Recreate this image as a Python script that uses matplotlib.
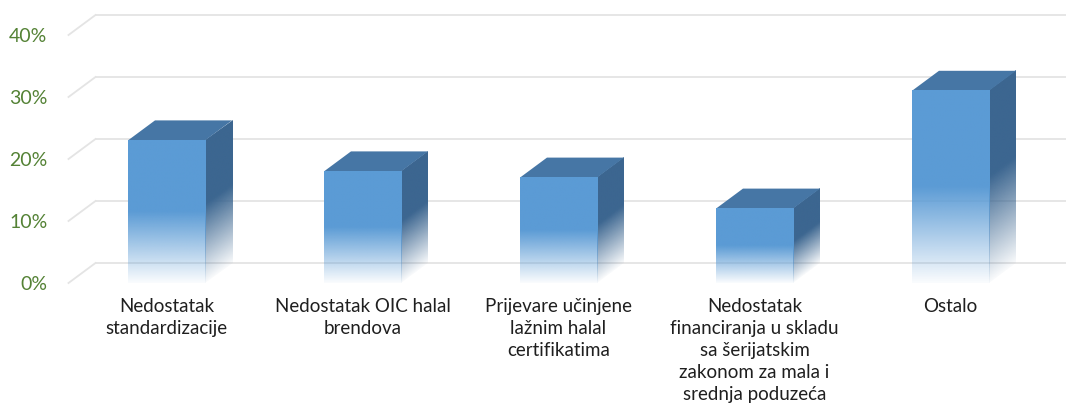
import numpy as np
import matplotlib
matplotlib.use("Agg")
import matplotlib.pyplot as plt
from matplotlib.patches import Polygon
from matplotlib.transforms import Affine2D

# ---- data ----
categories = [
    "Nedostatak\nstandardizacije",
    "Nedostatak OIC halal\nbrendova",
    "Prijevare učinjene\nlažnim halal\ncertifikatima",
    "Nedostatak\nfinanciranja u skladu\nsa šerijatskim\nzakonom za mala i\nsrednja poduzeća",
    "Ostalo",
]
values = [0.23, 0.18, 0.17, 0.12, 0.31]
yticks = [0.0, 0.1, 0.2, 0.3, 0.4]
ytick_labels = ["0%", "10%", "20%", "30%", "40%"]

# ---- style ----
FRONT = "#5B9BD5"
TOP = "#4676A5"
SIDE = "#3C6690"
GRID = "#E4E4E4"
YLAB = "#548235"
TXT = "#1F1F1F"
FONT = ["Lato", "DejaVu Sans"]

W, H = 1066, 413
fig = plt.figure(figsize=(W / 100, H / 100), dpi=100)
fig.patch.set_facecolor("white")
# front plane of plot area
left_px, right_px = 68.5, 1048.5
y0_px, y40_px = 283, 35
ax = fig.add_axes([left_px / W, (H - y0_px) / H, (right_px - left_px) / W, (y0_px - y40_px) / H])
ax.set_xlim(-0.5, len(values) - 0.5)
ax.set_ylim(0, 0.4)
ax.set_autoscale_on(False)
ax.axis("off")

# depth offset (pixels) converted to data units through the axes transform
depth_px = (27, 20)
p0 = ax.transData.transform((0, 0))
ddx, ddy = ax.transData.inverted().transform(p0 + np.array(depth_px)) - np.array([0, 0])

xmin, xmax = -0.5, len(values) - 0.5

# gridlines: diagonal on side wall + back wall horizontal
for v in yticks:
    ax.plot([xmin, xmin + ddx], [v, v + ddy], color=GRID, lw=1.3, clip_on=False, zorder=1)
    ax.plot([xmin + ddx, xmax + ddx + 0.2], [v + ddy, v + ddy], color=GRID, lw=1.3,
            clip_on=False, zorder=1)

for v, lab in zip(yticks, ytick_labels):
    ax.annotate(lab, (xmin, v), xytext=(-21, -2), textcoords="offset pixels",
                ha="right", va="center", color=YLAB, fontsize=14, family=FONT)

# gradient helper
def grad_img(color, n=256, solid_from=0.5):
    rgb = np.array(matplotlib.colors.to_rgb(color))
    t = np.linspace(0, 1, n)
    a = np.clip(t / solid_from, 0, 1)
    a = 0.03 + 0.97 * a
    img = np.zeros((n, 2, 4))
    img[:, :, :3] = rgb
    img[:, :, 3] = a[:, None]
    return img

bw = 0.393
for i, v in enumerate(values):
    xl, xr = i - bw / 2, i + bw / 2
    # side face (skewed gradient image)
    side_tr = Affine2D(np.array([[ddx, 0, xr], [ddy, v, 0], [0, 0, 1]])) + ax.transData
    ax.imshow(grad_img(SIDE, solid_from=0.55), extent=(0, 1, 0, 1), origin="lower",
              aspect="auto", interpolation="bilinear", transform=side_tr,
              clip_on=False, zorder=3)
    # top face
    top = Polygon([(xl, v), (xr, v), (xr + ddx, v + ddy), (xl + ddx, v + ddy)],
                  closed=True, facecolor=TOP, edgecolor="none", zorder=4, clip_on=False)
    ax.add_patch(top)
    # front face
    ax.imshow(grad_img(FRONT, solid_from=0.5), extent=(xl, xr, 0, v), origin="lower",
              aspect="auto", interpolation="bilinear", clip_on=False, zorder=5)

ax.set_xlim(-0.5, len(values) - 0.5)
ax.set_ylim(0, 0.4)

for i, lab in enumerate(categories):
    ax.annotate(lab, (i, 0), xytext=(0, -15), textcoords="offset pixels",
                ha="center", va="top", color=TXT, fontsize=13.5, family=FONT,
                linespacing=1.35)

fig.savefig("out.png", dpi=100, facecolor="white")
